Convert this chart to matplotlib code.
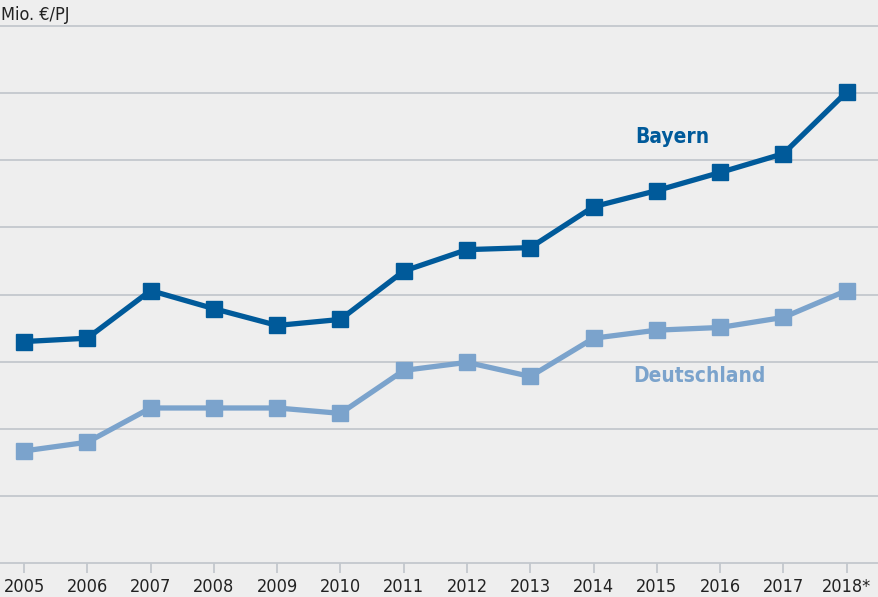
import matplotlib.pyplot as plt

years = ["2005", "2006", "2007", "2008", "2009", "2010", "2011",
         "2012", "2013", "2014", "2015", "2016", "2017", "2018*"]
bayern = [33.0, 33.5, 40.6, 37.9, 35.4, 36.3, 43.5,
          46.7, 47.0, 53.1, 55.5, 58.2, 61.0, 70.2]
deutschland = [16.7, 18.0, 23.1, 23.1, 23.1, 22.3, 28.7,
               29.9, 27.8, 33.5, 34.7, 35.1, 36.6, 40.6]

plt.rcParams['font.family'] = ['DejaVu Sans']
plt.rcParams['font.stretch'] = 'condensed'

bg = '#eeeeee'
grid_col = '#c3c8cd'
dark = '#005a9a'
light = '#7ba3cc'

fig = plt.figure(figsize=(8.79, 5.97), dpi=100, facecolor=bg)
ax = fig.add_axes([0, 34 / 597, 1, 1 - 34 / 597])
ax.set_facecolor(bg)

x = list(range(len(years)))
ax.plot(x, deutschland, color=light, lw=3.8, marker='s', ms=11.5)
ax.plot(x, bayern, color=dark, lw=3.8, marker='s', ms=11.5)

ax.set_xlim(-0.38, 13.51)
ax.set_ylim(0, 83.9)
ax.set_yticks(range(10, 81, 10))
ax.yaxis.grid(True, color=grid_col, lw=1.3)
ax.set_axisbelow(True)
ax.tick_params(axis='y', length=0, labelleft=False)
ax.set_xticks(x)
ax.set_xticklabels(years, fontsize=13, color='#222222')
ax.tick_params(axis='x', length=7, width=1.3, color=grid_col, pad=4)
for s in ['top', 'right', 'left']:
    ax.spines[s].set_visible(False)
ax.spines['bottom'].set_color(grid_col)
ax.spines['bottom'].set_linewidth(1.3)

ax.text(10.25, 63.5, 'Bayern', color=dark, fontsize=15, fontweight='bold', ha='center', va='center')
ax.text(10.68, 27.8, 'Deutschland', color=light, fontsize=15, fontweight='bold', ha='center', va='center')
fig.text(0.001, 0.975, 'Mio. €/PJ', fontsize=13, color='#222222', ha='left', va='center')

fig.savefig('out.png', dpi=100, facecolor=bg)
